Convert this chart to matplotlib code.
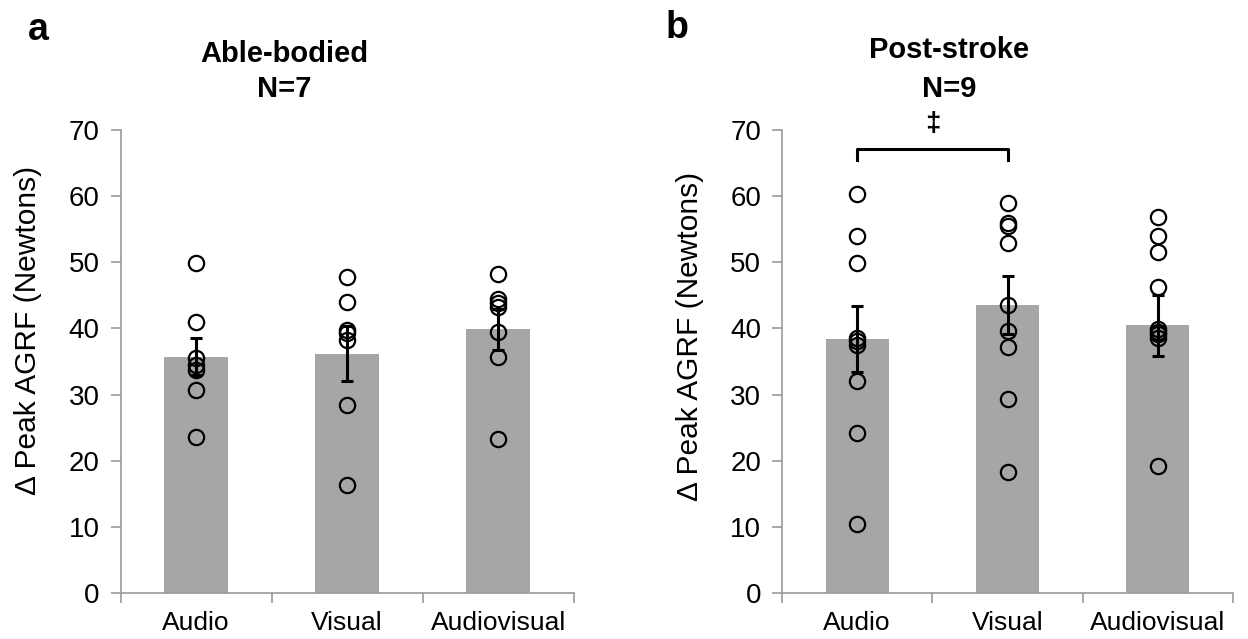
import matplotlib
matplotlib.use("Agg")
import matplotlib.pyplot as plt
import numpy as np

plt.rcParams['font.family'] = ['Liberation Sans', 'DejaVu Sans']

categories = ["Audio", "Visual", "Audiovisual"]

# Panel a: Able-bodied (N=7)
able_means = [35.7, 36.2, 39.9]
able_sem = [2.8, 4.1, 3.1]
able_points = [
    [49.9, 40.9, 35.5, 34.5, 33.7, 30.7, 23.6],
    [47.8, 44.0, 39.8, 39.3, 38.3, 28.4, 16.4],
    [48.2, 44.4, 43.9, 43.3, 39.5, 35.7, 23.3],
]

# Panel b: Post-stroke (N=9)
stroke_means = [38.4, 43.5, 40.5]
stroke_sem = [5.0, 4.4, 4.6]
stroke_points = [
    [60.3, 54.0, 49.9, 38.5, 38.1, 37.5, 32.0, 24.2, 10.5],
    [58.9, 55.9, 55.5, 52.9, 43.5, 39.6, 37.2, 29.4, 18.3],
    [56.8, 53.9, 51.5, 46.2, 39.9, 39.4, 39.1, 38.5, 19.2],
]

yticks = [0, 10, 20, 30, 40, 50, 60, 70]

W, H = 1248, 639
fig = plt.figure(figsize=(W / 100, H / 100), dpi=100)

axis_col = "#9a9a9a"
bar_col = "#a6a6a6"


def panel(rect, means, sem, points):
    ax = fig.add_axes(rect)
    x = np.arange(len(categories))
    ax.bar(x, means, width=0.42, color=bar_col, zorder=1)
    ax.errorbar(x, means, yerr=sem, fmt="none", ecolor="black",
                elinewidth=2.2, capsize=4.5, capthick=2.2, zorder=3)
    for i, pts in enumerate(points):
        ax.plot([x[i]] * len(pts), pts, linestyle="none", marker="o",
                markersize=11, markerfacecolor="none",
                markeredgecolor="black", markeredgewidth=1.6, zorder=4)
    ax.set_xlim(-0.5, len(categories) - 0.5)
    ax.set_ylim(0, 70)
    ax.set_yticks(yticks)
    ax.set_yticklabels([str(v) for v in yticks], fontsize=20)
    ax.set_xticks(x)
    ax.set_xticklabels(categories, fontsize=19)
    ax.tick_params(axis="x", length=0, pad=13)
    ax.tick_params(axis="y", length=7, width=1.2, color=axis_col, pad=8,
                   direction="out")
    # category boundary ticks
    ax.set_xticks(np.arange(-0.5, len(categories), 1.0), minor=True)
    ax.tick_params(axis="x", which="minor", length=7, width=1.2,
                   color=axis_col, direction="out")
    for s in ["top", "right"]:
        ax.spines[s].set_visible(False)
    for s in ["left", "bottom"]:
        ax.spines[s].set_color(axis_col)
        ax.spines[s].set_linewidth(1.2)
    return ax


bottom = 1 - 593 / H
height = (593 - 130) / H
axA = panel([120.7 / W, bottom, 453 / W, height], able_means, able_sem, able_points)
axB = panel([782 / W, bottom, 451 / W, height], stroke_means, stroke_sem, stroke_points)

# Significance bracket between Audio and Visual in panel b
axB.plot([0, 0, 1, 1], [65.5, 67.1, 67.1, 65.5], color="black", lw=2.2,
         clip_on=False, zorder=5)
axB.text(0.5, 70.9, "‡", ha="center", va="center", fontsize=20,
         fontweight="bold", clip_on=False)

# y labels
fig.text(28 / W, 1 - 330 / H, "Δ Peak AGRF (Newtons)", rotation=90,
         ha="center", va="center", fontsize=21.5)
fig.text(690 / W, 1 - 336 / H, "Δ Peak AGRF (Newtons)", rotation=90,
         ha="center", va="center", fontsize=21.5)

# titles
fig.text(284 / W, 1 - 54 / H, "Able-bodied", ha="center", va="center",
         fontsize=21, fontweight="bold")
fig.text(284 / W, 1 - 89 / H, "N=7", ha="center", va="center",
         fontsize=21, fontweight="bold")
fig.text(949 / W, 1 - 50 / H, "Post-stroke", ha="center", va="center",
         fontsize=21, fontweight="bold")
fig.text(949 / W, 1 - 89 / H, "N=9", ha="center", va="center",
         fontsize=21, fontweight="bold")

# panel letters
fig.text(38 / W, 1 - 30 / H, "a", ha="center", va="center",
         fontsize=27, fontweight="bold")
fig.text(677 / W, 1 - 28 / H, "b", ha="center", va="center",
         fontsize=27, fontweight="bold")

fig.savefig("out.png", dpi=100)
